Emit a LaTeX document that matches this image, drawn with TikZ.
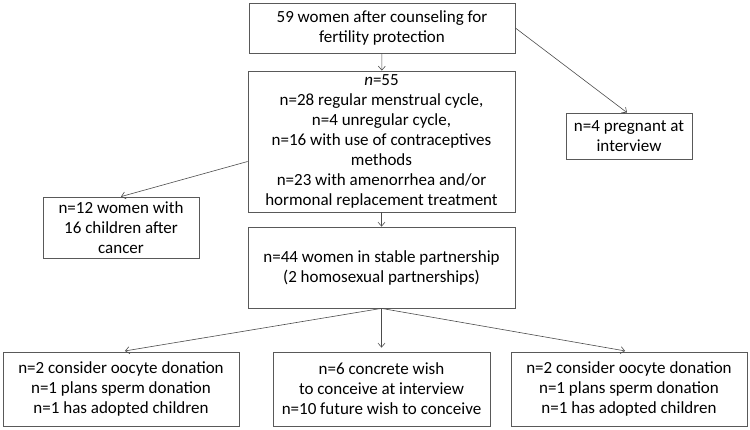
\documentclass[tikz,border=0pt]{standalone}
\usepackage{fontspec}
\setmainfont{Carlito}
\usetikzlibrary{arrows.meta,positioning}

\begin{document}
\begin{tikzpicture}[x=1pt,y=-1pt,font=\fontsize{17}{20}\selectfont,
    box/.style={draw=black!65, line width=0.8pt, align=center, inner sep=0pt},
    link/.style={draw=black!70, line width=0.6pt, -{Straight Barb[length=4pt,width=7pt]}}]
  \useasboundingbox (0,0) rectangle (750,429);
  % main column
  \node[box, minimum width=266pt, minimum height=50pt] (start) at (382,28)
    {59 women after counseling for\\fertility protection};
  \node[box, minimum width=267pt, minimum height=141pt] (cycle) at (381.5,141.5)
    {\textit{n}=55\\n=28 regular menstrual cycle,\\n=4 unregular cycle,\\n=16 with use of contraceptives\\methods\\n=23 with amenorrhea and/or\\hormonal replacement treatment};
  \node[box, minimum width=267pt, minimum height=81pt] (partner) at (381.5,267.5)
    {n=44 women in stable partnership\\(2 homosexual partnerships)};
  % side boxes
  \node[box, minimum width=126pt, minimum height=46pt] (pregnant) at (629,136)
    {n=4 pregnant at\\interview};
  \node[box, minimum width=156pt, minimum height=61pt] (children) at (121,227.5)
    {n=12 women with\\16 children after\\cancer};
  % bottom row
  \node[box, minimum width=236pt, minimum height=74pt] (donleft) at (121,389)
    {n=2 consider oocyte donation\\n=1 plans sperm donation\\n=1 has adopted children};
  \node[box, minimum width=217pt, minimum height=74pt] (wish) at (381.5,389)
    {n=6 concrete wish\\to conceive at interview\\n=10 future wish to conceive};
  \node[box, minimum width=236pt, minimum height=74pt] (donright) at (629,389)
    {n=2 consider oocyte donation\\n=1 plans sperm donation\\n=1 has adopted children};

  \draw[link] (start) -- (cycle);
  \draw[link] (start.east) -- ([xshift=-2pt]pregnant.north);
  \draw[link] ([yshift=-20pt]cycle.west) -- (children.north);
  \draw[link] (cycle) -- (partner);
  \draw[link, shorten >=4pt] (partner.south) -- (donleft.north);
  \draw[link, shorten >=4pt] (partner.south) -- (wish.north);
  \draw[link, shorten >=4pt] (partner.south) -- (donright.north);
\end{tikzpicture}
\end{document}
